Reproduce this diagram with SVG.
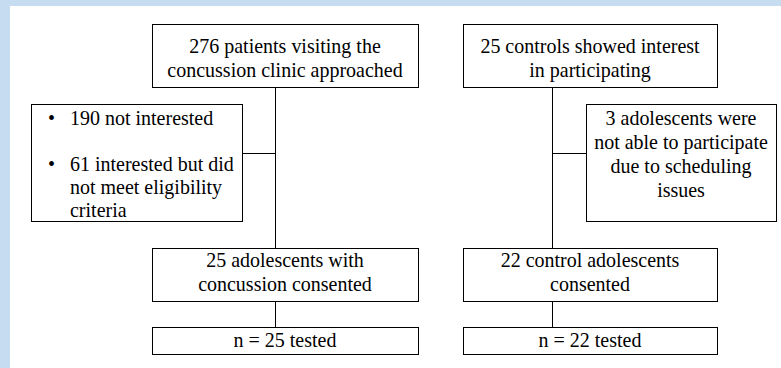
<svg xmlns="http://www.w3.org/2000/svg" width="781" height="368" viewBox="0 0 781 368">
<style>
.box{fill:#fff;stroke:#000;stroke-width:1}
</style>
<rect x="0" y="0" width="781" height="368" fill="#fff"/>
<rect x="0" y="0" width="781" height="6" fill="#c6dcf1"/>
<rect x="0" y="0" width="10" height="368" fill="#c6dcf1"/>
<g id="connectors" stroke="#000" stroke-width="1" fill="none">
<path d="M275.5 87.5V248.5M242.5 153.5H275.5M275.5 301.5V327.5"/>
<path d="M552.5 87.5V248.5M552.5 153.5H586.5M552.5 301.5V327.5"/>
</g>
<g id="approached"><rect class="box" x="152.5" y="24.5" width="266" height="63"/>
<text font-family="Liberation Serif" font-size="24" text-anchor="middle" transform="translate(285 53) scale(0.8333)">276 patients visiting the</text>
<text font-family="Liberation Serif" font-size="24" text-anchor="middle" transform="translate(285 77) scale(0.8333)">concussion clinic approached</text></g>
<g id="excluded"><rect class="box" x="31.5" y="104.5" width="211" height="117"/>
<text font-family="Liberation Serif" font-size="24" transform="translate(48 125) scale(0.8333)">•</text>
<text font-family="Liberation Serif" font-size="24" transform="translate(70 125) scale(0.8333)">190 not interested</text>
<text font-family="Liberation Serif" font-size="24" transform="translate(48 171) scale(0.8333)">•</text>
<text font-family="Liberation Serif" font-size="24" transform="translate(70 171) scale(0.8333)">61 interested but did</text>
<text font-family="Liberation Serif" font-size="24" transform="translate(70 194) scale(0.8333)">not meet eligibility</text>
<text font-family="Liberation Serif" font-size="24" transform="translate(70 217) scale(0.8333)">criteria</text></g>
<g id="consented"><rect class="box" x="152.5" y="248.5" width="266" height="53"/>
<text font-family="Liberation Serif" font-size="24" text-anchor="middle" transform="translate(285 267) scale(0.8333)">25 adolescents with</text>
<text font-family="Liberation Serif" font-size="24" text-anchor="middle" transform="translate(285 291) scale(0.8333)">concussion consented</text></g>
<g id="tested"><rect class="box" x="152.5" y="327.5" width="266" height="27"/>
<text font-family="Liberation Serif" font-size="24" text-anchor="middle" transform="translate(285 347) scale(0.8333)">n = 25 tested</text></g>
<g id="controls"><rect class="box" x="463.5" y="24.5" width="254" height="63"/>
<text font-family="Liberation Serif" font-size="24" text-anchor="middle" transform="translate(590 53) scale(0.8333)">25 controls showed interest</text>
<text font-family="Liberation Serif" font-size="24" text-anchor="middle" transform="translate(590 77) scale(0.8333)">in participating</text></g>
<g id="scheduling"><rect class="box" x="586.5" y="104.5" width="190" height="117"/>
<text font-family="Liberation Serif" font-size="24" text-anchor="middle" transform="translate(681 125) scale(0.8333)">3 adolescents were</text>
<text font-family="Liberation Serif" font-size="24" text-anchor="middle" transform="translate(681 149) scale(0.8333)">not able to participate</text>
<text font-family="Liberation Serif" font-size="24" text-anchor="middle" transform="translate(681 173) scale(0.8333)">due to scheduling</text>
<text font-family="Liberation Serif" font-size="24" text-anchor="middle" transform="translate(681 197) scale(0.8333)">issues</text></g>
<g id="controls-consented"><rect class="box" x="463.5" y="248.5" width="254" height="53"/>
<text font-family="Liberation Serif" font-size="24" text-anchor="middle" transform="translate(590 267) scale(0.8333)">22 control adolescents</text>
<text font-family="Liberation Serif" font-size="24" text-anchor="middle" transform="translate(590 291) scale(0.8333)">consented</text></g>
<g id="controls-tested"><rect class="box" x="463.5" y="327.5" width="254" height="27"/>
<text font-family="Liberation Serif" font-size="24" text-anchor="middle" transform="translate(590 347) scale(0.8333)">n = 22 tested</text></g>
</svg>
